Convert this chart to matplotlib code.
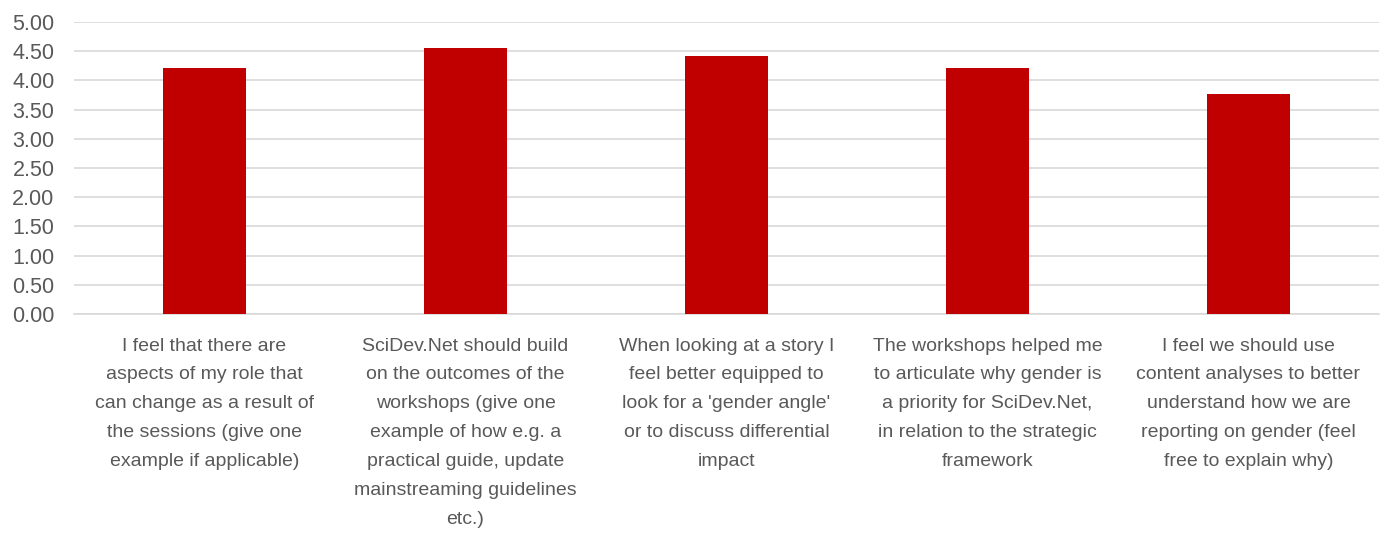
import matplotlib
matplotlib.use('Agg')
import matplotlib.pyplot as plt
import numpy as np

labels = [
    "I feel that there are\naspects of my role that\ncan change as a result of\nthe sessions (give one\nexample if applicable)",
    "SciDev.Net should build\non the outcomes of the\nworkshops (give one\nexample of how e.g. a\npractical guide, update\nmainstreaming guidelines\netc.)",
    "When looking at a story I\nfeel better equipped to\nlook for a 'gender angle'\nor to discuss differential\nimpact",
    "The workshops helped me\nto articulate why gender is\na priority for SciDev.Net,\nin relation to the strategic\nframework",
    "I feel we should use\ncontent analyses to better\nunderstand how we are\nreporting on gender (feel\nfree to explain why)",
]
values = [4.21, 4.56, 4.42, 4.21, 3.77]
yticks = np.arange(0, 5.01, 0.5)

plt.rcParams['font.family'] = ['Liberation Sans', 'DejaVu Sans']
text_color = '#595959'

fig = plt.figure(figsize=(13.94, 5.34), dpi=100)
ax = fig.add_axes([74 / 1394, 1 - 314 / 534, (1379 - 74) / 1394, (314 - 22) / 534])

x = np.arange(len(values))
ax.bar(x, values, width=0.315, color='#C00000', zorder=3)

ax.set_xlim(-0.5, len(values) - 0.5)
ax.set_ylim(0, 5)
ax.set_yticks(yticks)
ax.set_yticklabels(["{:.2f}".format(v) for v in yticks], fontsize=15.5, color=text_color)
ax.yaxis.grid(True, color='#D9D9D9', linewidth=1.2, zorder=0)
ax.tick_params(axis='y', length=0, pad=14)
ax.tick_params(axis='x', length=0, pad=17)
ax.set_xticks(x)
ax.set_xticklabels(labels, fontsize=14, color=text_color, linespacing=1.91, va='top')

for side in ['top', 'right', 'left']:
    ax.spines[side].set_visible(False)
ax.spines['bottom'].set_color('#D9D9D9')
ax.spines['bottom'].set_linewidth(1.2)

plt.savefig('out.png', dpi=100)
